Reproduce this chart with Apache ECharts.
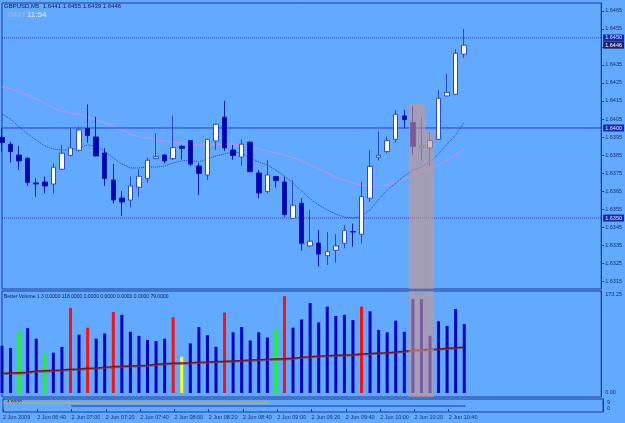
<!DOCTYPE html>
<html><head><meta charset="utf-8">
<script src="https://cdn.jsdelivr.net/npm/echarts@6/dist/echarts.min.js"></script>
<style>html,body{margin:0;padding:0;background:#62aaff}#c{width:625px;height:423px}</style>
</head><body><div id="c"></div>
<script>
// ---- data ----
const tickLabels = ['2 Jun 2009','2 Jun 06:40','2 Jun 07:00','2 Jun 07:20','2 Jun 07:40','2 Jun 08:00','2 Jun 08:20','2 Jun 08:40','2 Jun 09:00','2 Jun 09:20','2 Jun 09:40','2 Jun 10:00','2 Jun 10:20','2 Jun 10:40'];
const priceTicks = [1.6465,1.6455,1.6445,1.6435,1.6425,1.6415,1.6405,1.6395,1.6385,1.6375,1.6365,1.6355,1.6345,1.6335,1.6325,1.6315];
const open  = [1.63948,1.63910,1.63850,1.63832,1.63695,1.63700,1.63689,1.63771,1.63848,1.63876,1.63997,1.63950,1.63861,1.63711,1.63611,1.63600,1.63671,1.63719,1.63830,1.63850,1.63830,1.63898,1.63930,1.63789,1.63739,1.63928,1.64060,1.63878,1.63839,1.63921,1.63750,1.63648,1.63730,1.63700,1.63498,1.63582,1.63345,1.63361,1.63291,1.63321,1.63360,1.63424,1.63410,1.63610,1.63837,1.63869,1.63937,1.64067,1.64030,1.63891,1.63889,1.63937,1.64178,1.64187,1.64410];
const close = [1.63919,1.63869,1.63817,1.63698,1.63689,1.63678,1.63782,1.63860,1.63889,1.63989,1.63958,1.63845,1.63719,1.63600,1.63589,1.63678,1.63732,1.63821,1.63841,1.63817,1.63891,1.63887,1.63800,1.63748,1.63937,1.64021,1.63889,1.63847,1.63910,1.63758,1.63639,1.63739,1.63708,1.63520,1.63571,1.63360,1.63371,1.63300,1.63313,1.63345,1.63432,1.63423,1.63619,1.63787,1.63848,1.63930,1.64076,1.64047,1.63898,1.63900,1.63930,1.64165,1.64198,1.64415,1.64460];
const low   = [1.63869,1.63808,1.63767,1.63678,1.63619,1.63637,1.63637,1.63767,1.63841,1.63869,1.63919,1.63841,1.63678,1.63582,1.63511,1.63558,1.63619,1.63697,1.63826,1.63804,1.63823,1.63826,1.63789,1.63628,1.63711,1.63878,1.63873,1.63823,1.63789,1.63752,1.63610,1.63637,1.63669,1.63507,1.63495,1.63319,1.63341,1.63230,1.63239,1.63252,1.63332,1.63341,1.63360,1.63591,1.63819,1.63860,1.63919,1.63998,1.63850,1.63819,1.63789,1.63934,1.64174,1.64183,1.64390];
const high  = [1.63998,1.63924,1.63900,1.63837,1.63721,1.63730,1.63804,1.63906,1.63998,1.64008,1.64130,1.64061,1.63887,1.63800,1.63650,1.63730,1.63771,1.63837,1.63971,1.63856,1.64069,1.63906,1.63934,1.63804,1.63939,1.64026,1.64150,1.63906,1.63937,1.63924,1.63767,1.63823,1.63734,1.63730,1.63711,1.63610,1.63545,1.63434,1.63423,1.63411,1.63461,1.63470,1.63702,1.63878,1.63980,1.63952,1.64100,1.64100,1.64119,1.64060,1.63980,1.64211,1.64300,1.64437,1.64550];
const maSlow = [1.64228,1.64217,1.64200,1.64183,1.64161,1.64139,1.64111,1.64094,1.64083,1.64072,1.64061,1.64044,1.64033,1.64011,1.63989,1.63967,1.63950,1.63944,1.63933,1.63928,1.63922,1.63917,1.63911,1.63906,1.63906,1.63906,1.63911,1.63911,1.63906,1.63900,1.63883,1.63872,1.63861,1.63850,1.63833,1.63817,1.63794,1.63772,1.63750,1.63728,1.63711,1.63694,1.63683,1.63678,1.63678,1.63683,1.63700,1.63717,1.63733,1.63756,1.63772,1.63794,1.63822,1.63850,1.63883];
const maFast = [1.64078,1.64050,1.64006,1.63967,1.63933,1.63900,1.63883,1.63878,1.63878,1.63889,1.63906,1.63900,1.63872,1.63833,1.63800,1.63778,1.63778,1.63783,1.63783,1.63789,1.63806,1.63817,1.63822,1.63811,1.63828,1.63844,1.63856,1.63867,1.63861,1.63833,1.63811,1.63794,1.63767,1.63733,1.63694,1.63650,1.63606,1.63572,1.63544,1.63522,1.63506,1.63500,1.63511,1.63544,1.63606,1.63656,1.63694,1.63733,1.63767,1.63783,1.63811,1.63856,1.63911,1.63961,1.64033];
const hLines = [1.6450, 1.6400, 1.6350];
const bidPrice = 1.6446;
const volume = [81,77,106,111,93,67,69,79,146,100,112,93,102,139,134,105,98,91,89,93,130,62,85,113,99,79,138,104,113,90,104,95,110,166,112,126,154,121,148,132,134,125,148,140,108,104,124,105,161,161,98,123,115,144,118];
const volClass = ['b','b','g','b','b','g','b','b','r','b','r','b','b','r','b','b','b','b','b','b','r','y','b','b','b','b','r','b','b','b','b','b','g','r','b','b','b','b','b','b','b','b','r','b','b','b','b','b','b','b','b','b','b','b','b'];
const volMA = [33.7,34.3,34.9,35.4,37.7,38.3,38.9,39.4,40.6,41.2,42.3,42.9,44.0,45.2,45.7,46.3,46.9,47.4,49.2,50.3,50.9,51.5,52.0,52.6,53.2,54.0,54.3,54.9,55.5,56.6,57.2,57.7,58.3,58.9,59.5,61.2,62.3,63.5,64.0,64.6,65.2,65.7,66.9,67.5,68.6,69.2,70.3,71.5,73.2,73.7,74.9,75.5,76.6,77.7,79.0];
const volTicks = [0, 173.25];
const lowTicks = [0, 9];
const yellowLine = [[0, 7.7], [31, 7.7]];
const blueLine = [[8, 3.9], [54, 3.9]];
const overlayBands = [[48, 49, 1.64133], [50, 50, 1.63983]];
const titleText = 'GBPUSD,M5  1.6441 1.6455 1.6439 1.6446';
const volText = 'Better Volume 1.3 0.0000 118.0000 0.0000 0.0000 0.0000 0.0000 79.0000';
const lowText = '-4.0000';
const SLOTS = 71;

// ---- build ----
const navy = '#233d96';
const cats = Array.from({length: SLOTS}, (_, i) => 'b' + i);
const candles = open.map((o, i) => [o, close[i], low[i], high[i]]);
const volColors = {b: '#0000c8', r: '#ff1010', g: '#10ff10', y: '#ffff10'};
const isTick = (idx) => idx % 4 === 0 && idx / 4 < tickLabels.length;
const font = 'Liberation Sans';

function xAxis(gi, showLabels) {
  return {
    type: 'category', gridIndex: gi, data: cats, boundaryGap: false,
    axisLine: {show: false},
    axisTick: {show: showLabels, interval: (i) => isTick(i), length: 3, lineStyle: {color: navy}},
    axisLabel: {show: showLabels, interval: (i) => isTick(i), formatter: (v, i) => isTick(i) ? tickLabels[i / 4] : '',
      align: 'left', margin: 2, fontSize: 5.5, color: '#15306e', fontFamily: font},
    splitLine: {show: false}
  };
}
function bandRenderer(full) {
  return function (params, api) {
    const s = api.value(0), e = api.value(1);
    const w = api.size([1, 0])[0];
    const cs = params.coordSys;
    const p0 = api.coord([s, full ? 0 : api.value(2)]);
    const p1 = api.coord([e, full ? 0 : api.value(2)]);
    const x0 = p0[0] - w * 0.48, x1 = p1[0] + w * 0.48;
    const y0 = full ? cs.y : p0[1];
    return {type: 'rect', shape: {x: x0, y: y0, width: x1 - x0, height: cs.y + cs.height - y0},
      style: {fill: 'rgba(205,150,135,0.6)'}};
  };
}
function levelSeries(value, lineStyle, bg, fg) {
  return {type: 'line', xAxisIndex: 0, yAxisIndex: 0, data: [[0, value], [SLOTS - 1, value]],
    symbol: 'none', z: 4, silent: true, lineStyle: lineStyle,
    endLabel: {show: true, distance: 2, formatter: () => value.toFixed(4), fontSize: 5.5, fontFamily: font,
      color: fg, backgroundColor: bg, padding: [1, 2, 0, 2]}};
}

const option = {
  backgroundColor: '#62aaff',
  animation: false,
  grid: [
    {left: 2, width: 601, top: 3, height: 286, show: true, borderColor: navy, borderWidth: 1},
    {left: 2, width: 601, top: 291, height: 106, show: true, borderColor: navy, borderWidth: 1},
    {left: 2, width: 601, top: 399, height: 13, show: true, borderColor: navy, borderWidth: 1}
  ],
  xAxis: [xAxis(0, false), xAxis(1, false), xAxis(2, true)],
  yAxis: [
    {type: 'value', gridIndex: 0, position: 'right', min: 1.63106, max: 1.64694, splitLine: {show: false},
      axisLine: {show: true, lineStyle: {color: navy}},
      axisTick: {show: true, length: 3, customValues: priceTicks, lineStyle: {color: navy}},
      axisLabel: {customValues: priceTicks, formatter: (v) => v.toFixed(4), fontSize: 5.5, margin: 4, color: '#15306e', fontFamily: font}},
    {type: 'value', gridIndex: 1, position: 'right', min: -6.9, max: 174.9, splitLine: {show: false},
      axisLine: {show: true, lineStyle: {color: navy}},
      axisTick: {show: false},
      axisLabel: {customValues: volTicks, formatter: (v) => v > 0 ? '{t|' + v.toFixed(2) + '}' : '{b|' + v.toFixed(2) + '}',
        margin: 4, color: '#15306e', fontSize: 5.5, fontFamily: font,
        rich: {t: {fontSize: 5.5, padding: [6, 0, 0, 0], color: '#15306e'}, b: {fontSize: 5.5, color: '#15306e'}}}},
    {type: 'value', gridIndex: 2, position: 'right', min: -3.9, max: 12.9, splitLine: {show: false},
      axisLine: {show: true, lineStyle: {color: navy}},
      axisTick: {show: false},
      axisLabel: {customValues: lowTicks, formatter: (v) => String(v), margin: 4, fontSize: 5.5, color: '#15306e', fontFamily: font}}
  ],
  graphic: [
    {type: 'text', left: 4, top: 3, style: {text: titleText, fontSize: 6, fontFamily: font, fill: '#0c1c58'}},
    {type: 'text', left: 8, top: 11, style: {text: 'GMT:', fontSize: 8, fontFamily: font, fill: '#a8b6c6'}},
    {type: 'text', left: 27, top: 11, style: {text: '11:54', fontSize: 8, fontFamily: font, fill: '#e6f2ff'}},
    {type: 'text', left: 4, top: 294, style: {text: volText, fontSize: 5, fontFamily: font, fill: '#0c1c58'}},
    {type: 'text', left: 5, top: 400, style: {text: lowText, fontSize: 5, fontFamily: font, fill: '#0c1c58'}}
  ],
  series: [
    {type: 'line', xAxisIndex: 0, yAxisIndex: 0, data: maSlow, symbol: 'none', z: 2,
      lineStyle: {color: '#c890e0', width: 1}},
    {type: 'line', xAxisIndex: 0, yAxisIndex: 0, data: maFast, symbol: 'none', z: 2,
      lineStyle: {color: '#2a40c0', width: 1, type: 'dotted'}},
    levelSeries(hLines[0], {color: '#2a3ad0', type: 'dotted', width: 1}, '#1428b4', '#dfe8ff'),
    levelSeries(hLines[1], {color: '#2a3ad0', type: 'solid', width: 1}, '#1428b4', '#dfe8ff'),
    levelSeries(hLines[2], {color: '#2a3ad0', type: 'dotted', width: 1}, '#1428b4', '#dfe8ff'),
    levelSeries(bidPrice, {color: 'rgba(0,0,0,0)', width: 1}, '#1c2060', '#ffffff'),
    {type: 'candlestick', xAxisIndex: 0, yAxisIndex: 0, data: candles, barWidth: 5, z: 5,
      itemStyle: {color: '#ffffff', color0: '#0000b4', borderColor: '#2a48d8', borderColor0: '#0a18b8', borderWidth: 1}},
    {type: 'custom', xAxisIndex: 0, yAxisIndex: 0, data: overlayBands, encode: {x: [0, 1], y: 2}, z: 10,
      renderItem: bandRenderer(false), silent: true},
    {type: 'bar', xAxisIndex: 1, yAxisIndex: 1, barWidth: 3, z: 2,
      data: volume.map((v, i) => ({value: v, itemStyle: {color: volColors[volClass[i]]}}))},
    {type: 'line', xAxisIndex: 1, yAxisIndex: 1, data: volMA, symbol: 'none', z: 3,
      lineStyle: {color: '#8a0c0c', width: 1.5, shadowColor: 'rgba(80,80,110,0.7)', shadowBlur: 0, shadowOffsetY: 1}},
    {type: 'custom', xAxisIndex: 1, yAxisIndex: 1, data: overlayBands, encode: {x: [0, 1], y: 2}, z: 10,
      renderItem: bandRenderer(true), silent: true},
    {type: 'line', xAxisIndex: 2, yAxisIndex: 2, data: yellowLine, symbol: 'none', z: 2,
      lineStyle: {color: '#c8aa5a', width: 1.5}},
    {type: 'line', xAxisIndex: 2, yAxisIndex: 2, data: blueLine, symbol: 'none', z: 2,
      lineStyle: {color: '#0010c0', width: 1.5, type: [1, 1]}}
  ]
};
const chart = echarts.init(document.getElementById('c'));
chart.setOption(option);
</script>
</body></html>
